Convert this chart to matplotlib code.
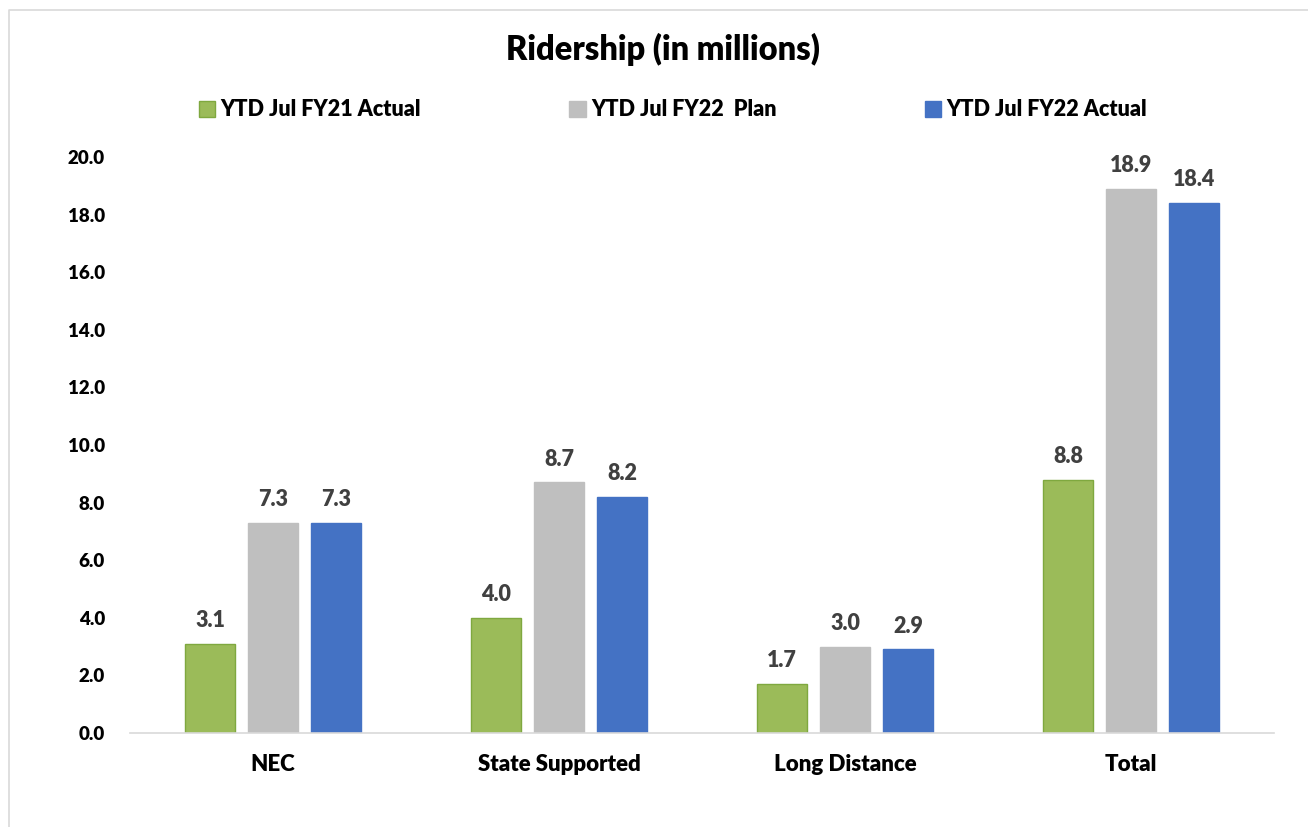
import matplotlib.pyplot as plt
import numpy as np
from matplotlib.lines import Line2D

CATEGORIES = ["NEC", "State Supported", "Long Distance", "Total"]
SERIES = ["YTD Jul FY21 Actual", "YTD Jul FY22  Plan", "YTD Jul FY22 Actual"]
FY21_ACTUAL = [3.1, 4.0, 1.7, 8.8]
FY22_PLAN = [7.3, 8.7, 3.0, 18.9]
FY22_ACTUAL = [7.3, 8.2, 2.9, 18.4]
YTICKS = [0, 2, 4, 6, 8, 10, 12, 14, 16, 18, 20]

COLORS = ["#9BBB59", "#BFBFBF", "#4472C4"]
EDGES = ["#7FA83F", "#BFBFBF", "#4472C4"]
WEIGHT = "heavy"

plt.rcParams['font.family'] = ['Lato', 'DejaVu Sans']

fig = plt.figure(figsize=(13.08, 8.27), dpi=100)
ax = fig.add_axes([0.0994, 0.1137, 0.8746, 0.6963])

# frame of the original chart, only top and left edges survive the crop
fig.lines.append(Line2D([9 / 1308, 9 / 1308, 1], [0, 1 - 10 / 827, 1 - 10 / 827],
                        transform=fig.transFigure, color="#D9D9D9", linewidth=1.2))

x = np.arange(len(CATEGORIES))
width = 0.175
step = 0.22
values = [FY21_ACTUAL, FY22_PLAN, FY22_ACTUAL]
for i, vals in enumerate(values):
    bars = ax.bar(x + (i - 1) * step, vals, width, color=COLORS[i],
                  edgecolor=EDGES[i], linewidth=1, label=SERIES[i])
    for b, v in zip(bars, vals):
        ax.text(b.get_x() + b.get_width() / 2, v + 0.45, f"{v:.1f}",
                ha="center", va="bottom", fontsize=15.5, fontweight=WEIGHT,
                color="#404040")

ax.set_xlim(-0.5, len(CATEGORIES) - 0.5)
ax.set_ylim(0, 20)
ax.set_yticks(YTICKS)
ax.set_yticklabels([f"{t:.1f}" for t in YTICKS], fontsize=13.5, fontweight=WEIGHT)
ax.set_xticks(x)
ax.set_xticklabels(CATEGORIES, fontsize=16, fontweight=WEIGHT)
ax.tick_params(axis="y", length=0, pad=18)
ax.tick_params(axis="x", length=0, pad=15)
for s in ["top", "right", "left"]:
    ax.spines[s].set_visible(False)
ax.spines["bottom"].set_color("#D9D9D9")
ax.spines["bottom"].set_linewidth(1.2)

fig.text(0.5065, 0.94, "Ridership (in millions)", ha="center", va="center",
         fontsize=23.5, fontweight=WEIGHT)

fig.legend(loc="center", bbox_to_anchor=(0.5145, 0.867), ncol=3, frameon=False,
           prop={"size": 15.5, "weight": WEIGHT}, handlelength=0.75,
           handleheight=0.8, handletextpad=0.25, columnspacing=6.9)

fig.savefig("out.png", dpi=100, facecolor="white")
